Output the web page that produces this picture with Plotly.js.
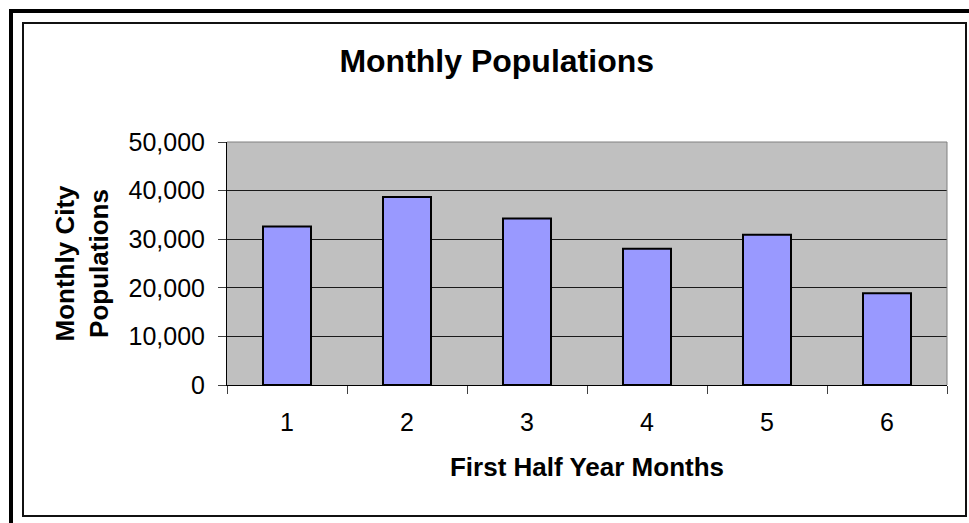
<!DOCTYPE html>
<html>
<head>
<meta charset="utf-8">
<script src="https://cdn.plot.ly/plotly-3.0.1.min.js"></script>
<style>
  html, body { margin: 0; padding: 0; background: #ffffff; }
  #wrap { position: relative; width: 969px; height: 523px; overflow: hidden; }
  #chart { position: absolute; left: 0; top: 0; width: 969px; height: 523px; }
  .frame { position: absolute; pointer-events: none; }
  #outerTop { left: 9px; top: 9px; width: 960px; height: 4px; background: #000; }
  #outerLeft { left: 9px; top: 9px; width: 4px; height: 514px; background: #000; }
  #inner { left: 22px; top: 22px; width: 941px; height: 491px; border: 2px solid #111; }
</style>
</head>
<body>
<div id="wrap">
  <div id="chart"></div>
  <div class="frame" id="outerTop"></div>
  <div class="frame" id="outerLeft"></div>
  <div class="frame" id="inner"></div>
</div>
<script>
const months = ['1', '2', '3', '4', '5', '6'];
const populations = [32600, 38700, 34250, 28050, 30900, 18900];
const yTickValues = [0, 10000, 20000, 30000, 40000, 50000];

const chartTitle = 'Monthly Populations';
const xTitle = 'First Half Year Months';
const yTitle = 'Monthly City<br>Populations';

const FONT = 'Liberation Sans, Arial, sans-serif';

const trace = {
  type: 'bar',
  x: months,
  y: populations,
  marker: { color: '#9999FF', line: { color: '#000000', width: 2 } },
  hoverinfo: 'x+y'
};

const layout = {
  width: 969,
  height: 523,
  margin: { l: 227, r: 22, t: 142, b: 138, pad: 0 },
  paper_bgcolor: 'rgba(0,0,0,0)',
  plot_bgcolor: '#C0C0C0',
  showlegend: false,
  bargap: 0.6,
  font: { family: FONT, color: '#000000' },
  title: {
    text: chartTitle,
    font: { family: FONT, size: 32, weight: 'bold', color: '#000000' },
    x: 0.5126, xanchor: 'center', xref: 'container',
    y: 1 - 61 / 523, yanchor: 'middle', yref: 'container'
  },
  xaxis: {
    type: 'category',
    range: [-0.5, 5.5],
    tickson: 'boundaries',
    ticks: 'outside',
    ticklen: 8,
    tickwidth: 1,
    tickcolor: '#404040',
    showline: true,
    linecolor: '#000000',
    linewidth: 1,
    showgrid: false,
    zeroline: false,
    tickfont: { family: FONT, size: 25, color: '#000000' },
    ticklabelstandoff: 15,
    title: {
      text: xTitle,
      font: { family: FONT, size: 26, weight: 'bold', color: '#000000' },
      standoff: 22
    },
    fixedrange: true
  },
  yaxis: {
    range: [0, 50000],
    tickvals: yTickValues,
    tickformat: ',d',
    ticks: 'outside',
    ticklen: 8,
    tickwidth: 1,
    tickcolor: '#404040',
    showline: true,
    linecolor: '#000000',
    linewidth: 1,
    showgrid: true,
    gridcolor: '#1a1a1a',
    gridwidth: 1,
    zeroline: false,
    tickfont: { family: FONT, size: 25, color: '#000000' },
    ticklabelstandoff: 8,
    title: {
      text: yTitle,
      font: { family: FONT, size: 26, weight: 'bold', color: '#000000' },
      standoff: 12
    },
    fixedrange: true
  },
  shapes: [
    {
      type: 'path', xref: 'paper', yref: 'paper',
      path: 'M0,1 L1,1 L1,0',
      line: { color: '#808080', width: 1 },
      layer: 'above'
    }
  ]
};

Plotly.newPlot('chart', [trace], layout, { displayModeBar: false, staticPlot: true });
</script>
</body>
</html>
